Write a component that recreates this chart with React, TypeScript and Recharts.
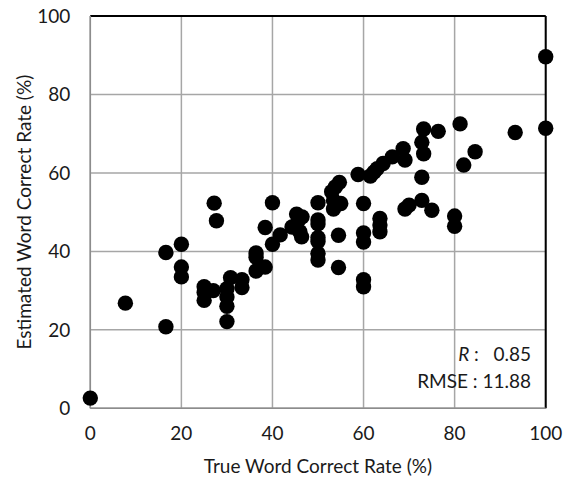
import React from "react";
import {
  ScatterChart,
  Scatter,
  XAxis,
  YAxis,
  CartesianGrid,
  ReferenceLine,
  Label,
} from "recharts";

const trueRate = [
  0, 7.7, 16.6, 16.6, 20, 20, 20, 25, 25, 25, 27.2, 27.7, 27, 30, 30, 30, 30,
  30.8, 33.3, 33.3, 36.4, 36.4, 36.4, 38.4, 38.4, 40, 40, 41.7, 44.3, 45.3,
  45.6, 46, 46.4, 46.5, 50, 50, 50, 50, 50, 50, 50, 53, 53.4, 53.4, 53.8, 54.7,
  55, 54.5, 54.5, 58.8, 60, 60, 60, 60, 60, 61.5, 62.3, 63, 64.3, 63.6, 63.6,
  63.6, 66.3, 68.7, 69.1, 69.1, 70, 72.8, 72.8, 72.8, 73.2, 73.2, 75, 76.4, 80,
  80, 81.2, 82, 84.5, 93.3, 100, 100,
];

const estimatedRate = [
  2.6, 26.8, 20.8, 39.7, 41.8, 36, 33.5, 31, 29.5, 27.5, 52.3, 47.8, 30, 30.5,
  28.4, 26, 22.1, 33.3, 32.8, 30.8, 39.6, 38.5, 35, 36, 46.1, 52.4, 41.8, 44.2,
  46.2, 49.5, 47.7, 45, 43.7, 48.8, 52.4, 48, 47, 43.5, 42.5, 39.5, 37.8, 55.2,
  53, 50.8, 56.4, 57.6, 52.2, 44.1, 35.9, 59.6, 52.2, 44.7, 42.4, 32.8, 31,
  59.2, 60.2, 61.1, 62.4, 48.4, 46.7, 45, 64.1, 66.2, 63.3, 50.8, 51.8, 58.9,
  53, 67.8, 71.2, 64.9, 50.5, 70.6, 49, 46.4, 72.5, 62, 65.4, 70.3, 89.6, 71.4,
];

const xTicks = [0, 20, 40, 60, 80, 100];
const yTicks = [0, 20, 40, 60, 80, 100];

const rValue = "0.85";
const rmseValue = "11.88";

const data = trueRate.map((x, i) => ({ x, y: estimatedRate[i] }));

const FONT = "Lato, 'Open Sans', sans-serif";
const FS = 19;

const Dot = (props: any) => (
  <circle cx={props.cx} cy={props.cy} r={7.7} fill="#000" />
);

export default function App() {
  return (
    <div style={{ position: "absolute", left: 0, top: 0, width: 571, height: 479 }}>
      <ScatterChart
        width={571}
        height={479}
        margin={{ top: 16, right: 25.3, bottom: 0, left: 0 }}
        style={{ fontFamily: FONT }}
      >
        <CartesianGrid stroke="#a6a6a6" strokeWidth={1.5} />
        <XAxis
          type="number"
          dataKey="x"
          domain={[0, 100]}
          ticks={xTicks}
          height={70.7}
          tickLine={false}
          tickSize={0}
          tickMargin={18}
          axisLine={{ stroke: "#8c8c8c", strokeWidth: 1.5 }}
          tick={{ fill: "#1a1a1a", fontSize: FS, fontFamily: FONT }}
        >
          <Label
            value="True Word Correct Rate (%)"
            position="insideBottom"
            offset={6}
            style={{ fill: "#1a1a1a", fontSize: FS, fontFamily: FONT }}
          />
        </XAxis>
        <YAxis
          type="number"
          dataKey="y"
          domain={[0, 100]}
          ticks={yTicks}
          width={90.3}
          tickLine={false}
          tickSize={0}
          tickMargin={20}
          axisLine={{ stroke: "#8c8c8c", strokeWidth: 1.5 }}
          tick={{ fill: "#1a1a1a", fontSize: FS, fontFamily: FONT }}
        >
          <Label
            value="Estimated Word Correct Rate (%)"
            angle={-90}
            position="center"
            dx={-21}
            style={{ fill: "#1a1a1a", fontSize: FS, fontFamily: FONT, textAnchor: "middle" }}
          />
        </YAxis>
        <ReferenceLine y={100} stroke="#000" strokeWidth={2} />
        <ReferenceLine x={100} stroke="#000" strokeWidth={2} />
        <Scatter data={data} shape={Dot} isAnimationActive={false} />
      </ScatterChart>
      <svg
        width={571}
        height={479}
        style={{ position: "absolute", left: 0, top: 0, pointerEvents: "none", whiteSpace: "pre" }}
      >
        <text x={531} y={361} textAnchor="end" fontSize={FS} fontFamily={FONT} fill="#1a1a1a" style={{ whiteSpace: "pre" }}>
          <tspan fontStyle="italic">R</tspan>
          <tspan>{" :   " + rValue}</tspan>
        </text>
        <text x={531} y={388} textAnchor="end" fontSize={FS} fontFamily={FONT} fill="#1a1a1a">
          {"RMSE : " + rmseValue}
        </text>
      </svg>
    </div>
  );
}
